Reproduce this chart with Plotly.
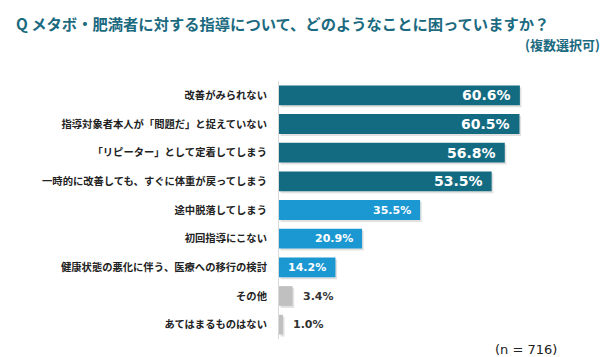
import plotly.graph_objects as go

categories = [
    "改善がみられない",
    "指導対象者本人が「問題だ」と捉えていない",
    "「リピーター」として定着してしまう",
    "一時的に改善しても、すぐに体重が戻ってしまう",
    "途中脱落してしまう",
    "初回指導にこない",
    "健康状態の悪化に伴う、医療への移行の検討",
    "その他",
    "あてはまるものはない",
]
values = [60.6, 60.5, 56.8, 53.5, 35.5, 20.9, 14.2, 3.4, 1.0]
title_text = "Q メタボ・肥満者に対する指導について、どのようなことに困っていますか？"
subtitle_text = "(複数選択可)"
n_text = "(n = 716)"

DARK = "#136b81"
LIGHT = "#1b98d2"
GRAY = "#c0c0c0"
bar_colors = [DARK] * 4 + [LIGHT] * 3 + [GRAY] * 2
text_colors = ["white"] * 7 + ["#333333"] * 2
text_sizes = [14] * 4 + [11] * 5
inside = [True] * 7 + [False] * 2

W = 0.69

fig = go.Figure()
# subtle drop shadow
fig.add_trace(go.Bar(
    y=categories, x=values, orientation="h",
    base=0.4, width=W, offset=-W / 2 + 0.07,
    marker=dict(color="rgba(120,120,120,0.22)", line=dict(width=0)),
    hoverinfo="skip", showlegend=False,
))
fig.add_trace(go.Bar(
    y=categories, x=values, orientation="h",
    width=W, offset=-W / 2,
    marker=dict(color=bar_colors, line=dict(width=0)),
    showlegend=False,
))

annotations = []
for cat, v, c, s, ins in zip(categories, values, text_colors, text_sizes, inside):
    annotations.append(dict(
        x=v, y=cat, xref="x", yref="y", text=f"{v:.1f}%", showarrow=False,
        xanchor="right" if ins else "left", yanchor="middle",
        xshift=-7 if ins else 8,
        font=dict(family="DejaVu Sans", size=s, color=c, weight="bold"),
    ))

annotations += [
    dict(text=subtitle_text, xref="paper", yref="paper", x=323 / 318, y=(339 - 45) / 258,
         xanchor="right", yanchor="middle", showarrow=False,
         font=dict(family="Noto Sans CJK JP", size=13, color="#1b6a80", weight="bold")),
    dict(text=n_text, xref="paper", yref="paper", x=280 / 318, y=(339 - 349) / 258,
         xanchor="right", yanchor="middle", showarrow=False,
         font=dict(family="DejaVu Sans", size=13, color="#222222")),
]

fig.update_layout(
    width=612, height=357,
    margin=dict(l=279, r=15, t=81, b=18),
    paper_bgcolor="white", plot_bgcolor="white",
    barmode="overlay",
    title=dict(
        text=title_text, xref="container", yref="container",
        x=16 / 612, y=1 - 25 / 357, xanchor="left", yanchor="middle",
        font=dict(family="Noto Sans CJK JP", size=15.3, color="#1b6a80", weight="bold"),
    ),
    xaxis=dict(range=[0, 80], visible=False, fixedrange=True),
    yaxis=dict(
        autorange="reversed", showline=True, linecolor="#d9d9d9", linewidth=1,
        ticks="", showgrid=False, zeroline=False, ticklabelstandoff=9, fixedrange=True,
        tickfont=dict(family="Noto Sans CJK JP", size=10.3, color="#222222", weight="bold"),
    ),
    annotations=annotations,
)

fig.write_html("out.html", config={"displayModeBar": False},
               post_script="document.body.style.margin='0';document.body.style.padding='0';")
